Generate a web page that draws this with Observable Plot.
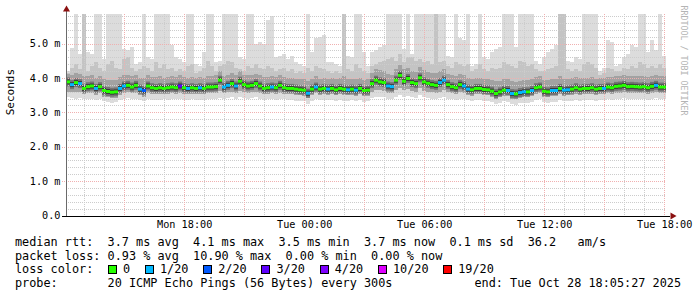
<!DOCTYPE html>
<html><head><meta charset="utf-8">
<script src="https://cdn.jsdelivr.net/npm/d3@7"></script>
<script src="https://cdn.jsdelivr.net/npm/@observablehq/plot@0.6"></script>
<style>
html,body{margin:0;padding:0;background:#fff;}
body{width:697px;height:297px;overflow:hidden;position:relative;font-family:"DejaVu Sans Mono",monospace;}
#chart{position:absolute;left:0;top:0;}
.lg{position:absolute;left:15px;font-size:11.83px;line-height:14px;white-space:pre;color:#000;}
.lg.right{left:auto;right:16px;text-align:right;}
.sq{display:inline-block;width:7px;height:7px;border:1px solid #000;margin:0 6px 0 0.5px;vertical-align:-1px;}
</style></head><body>
<div id="chart"></div>
<div id="legend"></div>
<script>
// ---- data ----
const lossLevels = [0, 1, 2, 3, 4, 10, 19];
const lossColors = ["#26ff00", "#00b8ff", "#0059ff", "#5e00ff", "#7e00ff", "#dd00ff", "#ff0000"];
const lossLabels = ["0", "1/20", "2/20", "3/20", "4/20", "10/20", "19/20"];

const startTime = new Date(Date.UTC(2025, 9, 27, 12, 5, 27));
const endTime = new Date(Date.UTC(2025, 9, 28, 18, 5, 27));
const stepMinutes = 12;
const yMax = 5.86;

const yTicks = [0, 1, 2, 3, 4, 5];
const yTickLabels = ["0.0", "1.0 m", "2.0 m", "3.0 m", "4.0 m", "5.0 m"];
const xTicks = [
  new Date(Date.UTC(2025, 9, 27, 18)), new Date(Date.UTC(2025, 9, 28, 0)),
  new Date(Date.UTC(2025, 9, 28, 6)), new Date(Date.UTC(2025, 9, 28, 12)),
  new Date(Date.UTC(2025, 9, 28, 18))
];
const xTickLabels = ["Mon 18:00", "Tue 00:00", "Tue 06:00", "Tue 12:00", "Tue 18:00"];

// median rtt (ms)
const median = [
3.90,3.82,3.88,3.85,3.71,3.76,3.78,3.71,3.76,3.65,
3.62,3.60,3.61,3.71,3.78,3.80,3.75,3.80,3.69,3.65,
3.78,3.73,3.71,3.73,3.71,3.73,3.75,3.73,3.78,3.73,
3.71,3.73,3.71,3.73,3.71,3.75,3.75,3.76,3.95,3.75,
3.80,3.85,3.78,3.92,3.82,3.78,3.80,3.85,3.78,3.71,
3.73,3.75,3.73,3.80,3.73,3.71,3.71,3.69,3.67,3.66,
3.57,3.69,3.75,3.69,3.71,3.69,3.71,3.67,3.71,3.69,
3.67,3.69,3.66,3.71,3.65,3.66,3.85,3.95,3.90,3.88,
3.78,3.76,3.95,4.09,3.92,4.00,3.88,3.85,4.02,3.90,
3.86,3.82,3.80,3.88,3.95,3.82,3.76,3.73,3.82,3.78,
3.69,3.67,3.71,3.71,3.68,3.67,3.63,3.56,3.61,3.66,
3.65,3.56,3.55,3.59,3.61,3.61,3.65,3.73,3.75,3.63,
3.61,3.65,3.65,3.71,3.66,3.67,3.69,3.73,3.69,3.71,
3.71,3.73,3.69,3.71,3.71,3.75,3.73,3.77,3.78,3.80,
3.76,3.77,3.76,3.75,3.76,3.73,3.77,3.80,3.75,3.75];

// lost pings out of 20
const loss = [
0,1,0,1,0,0,0,1,0,0,
0,0,0,1,1,0,0,0,1,2,
0,0,0,0,0,0,0,0,3,0,
1,0,0,1,0,0,0,0,0,1,
1,0,1,0,0,0,0,0,0,0,
0,1,0,0,0,0,0,0,0,0,
1,0,1,0,0,1,0,0,0,0,
1,0,1,0,0,0,0,0,0,0,
1,1,0,0,0,0,0,0,0,0,
0,0,0,1,1,0,0,0,0,1,
1,0,0,0,0,0,0,0,0,0,
1,1,0,1,1,0,1,0,0,0,
0,1,1,0,1,1,0,0,0,0,
0,0,0,0,1,0,0,0,0,0,
0,0,0,0,0,0,0,1,0,0];

// smoke: slowest ping (6 = beyond top of chart)
const pingMax = [
4.2,4.87,6,4.7,6,4.75,4.7,6,6,4.55,
6,6,6,6,4.85,4.8,4.9,4.4,4.45,6,
4.6,4.55,6,6,6,6,4.95,4.6,4.55,4.45,
6,6,4.4,4.35,4.75,6,6,4.45,4.5,6,
6,6,6,4.6,4.55,6,6,5.0,5.05,5.0,
5.7,5.8,4.6,4.65,4.7,4.55,4.65,4.45,4.4,4.35,
6,4.75,5.15,5.2,5.25,4.45,4.45,4.4,4.35,6,
4.65,4.6,6,6,4.75,4.35,4.75,4.8,4.9,4.95,
6,6,6,6,4.85,6,4.7,6,6,6,
6,6,6,6,6,4.65,4.6,6,5.15,5.1,
6,4.35,4.4,6,4.6,4.55,4.75,4.85,4.9,6,
6,6,4.9,6,6,6,6,4.5,4.4,4.6,
4.75,4.85,4.95,6,6,4.5,4.45,4.6,4.55,6,
6,6,6,4.2,4.3,5.1,5.05,4.35,4.4,4.6,
4.7,4.95,4.9,6,6,4.75,5.1,4.8,6,4.65];

// second slowest ping
const ping19 = [
4.15,4.3,4.4,4.25,6,4.2,4.35,4.45,4.3,4.2,
4.4,4.5,4.3,4.25,4.55,4.6,4.3,4.2,4.25,4.35,
4.3,4.2,4.45,4.3,4.4,4.25,4.3,4.2,4.25,4.2,
4.35,4.4,4.15,4.2,4.3,4.5,4.35,4.2,4.35,4.4,
4.5,4.45,4.3,4.25,4.2,4.35,4.3,4.4,4.3,4.25,
4.35,4.3,4.2,4.25,4.3,4.2,4.25,4.15,4.2,4.15,
4.3,4.2,4.35,4.3,4.25,4.2,4.15,4.2,4.15,6,
4.25,4.2,4.4,4.3,4.2,4.15,4.35,4.4,4.45,4.5,
4.55,4.6,4.5,4.7,4.45,4.6,4.6,4.5,4.55,4.45,
4.5,4.4,6,4.45,4.5,4.35,4.3,4.45,4.4,4.35,
4.4,4.2,4.25,4.4,4.25,4.2,4.3,4.25,4.3,4.45,
4.4,4.35,4.3,4.5,4.45,4.35,4.4,4.25,4.2,4.2,
4.25,4.3,4.35,6,6,4.25,4.2,4.25,4.2,4.4,
4.45,4.4,4.3,4.1,4.15,4.3,4.25,4.2,4.2,4.3,
4.25,4.35,4.3,4.45,4.4,4.3,4.35,4.3,4.4,4.3];

// upper inner smoke edge
const pingHigh = [
4.12,4.1,4.15,4.12,4.05,4.05,4.08,4.0,4.05,3.98,
3.95,3.95,3.95,4.02,4.08,4.1,4.05,4.08,4.0,4.0,
4.08,4.02,4.02,4.05,4.0,4.03,4.05,4.02,4.08,4.03,
4.0,4.03,4.0,4.02,4.0,4.05,4.05,4.08,4.2,4.05,
4.1,4.15,4.08,4.2,4.1,4.08,4.1,4.12,4.08,4.02,
4.03,4.05,4.02,4.08,4.02,4.0,4.0,3.98,3.98,3.96,
3.92,3.98,4.05,3.98,4.0,3.98,4.0,3.97,4.0,4.05,
3.98,3.98,3.96,4.0,3.95,3.98,4.15,4.25,4.22,4.2,
4.12,4.1,4.25,4.38,4.25,4.3,4.2,4.18,4.32,4.22,
4.18,4.15,4.15,4.2,4.25,4.12,4.08,4.05,4.12,4.08,
4.0,3.98,4.0,4.0,3.98,3.97,3.95,3.9,3.92,3.97,
3.96,3.9,3.88,3.92,3.93,3.93,3.96,4.02,4.05,3.95,
3.93,3.96,3.97,4.05,3.98,3.98,4.0,4.02,4.0,4.0,
4.0,4.02,3.98,4.0,4.0,4.04,4.02,4.06,4.07,4.1,
4.05,4.06,4.05,4.05,4.06,4.02,4.06,4.1,4.05,4.05];

// lower inner smoke edge
const pingLow = [
3.6,3.58,3.6,3.58,3.52,3.55,3.56,3.5,3.55,3.46,
3.44,3.42,3.43,3.5,3.56,3.58,3.55,3.57,3.5,3.45,
3.56,3.53,3.52,3.53,3.52,3.54,3.55,3.53,3.56,3.53,
3.52,3.53,3.52,3.53,3.52,3.55,3.55,3.56,3.62,3.55,
3.58,3.6,3.56,3.62,3.58,3.56,3.58,3.6,3.56,3.52,
3.53,3.55,3.53,3.57,3.53,3.52,3.52,3.5,3.49,3.48,
3.42,3.5,3.55,3.5,3.52,3.5,3.52,3.49,3.52,3.5,
3.49,3.5,3.48,3.52,3.47,3.48,3.6,3.66,3.64,3.62,
3.56,3.55,3.65,3.72,3.64,3.68,3.62,3.6,3.7,3.63,
3.6,3.58,3.57,3.6,3.64,3.58,3.55,3.53,3.58,3.55,
3.5,3.48,3.52,3.52,3.5,3.49,3.46,3.4,3.44,3.48,
3.47,3.4,3.39,3.42,3.44,3.44,3.47,3.53,3.55,3.46,
3.44,3.47,3.47,3.52,3.48,3.49,3.5,3.53,3.5,3.52,
3.52,3.53,3.5,3.52,3.52,3.55,3.53,3.56,3.57,3.58,
3.55,3.56,3.55,3.55,3.56,3.53,3.56,3.58,3.55,3.55];

// fastest ping
const pingMin = [
3.45,3.42,3.4,3.42,3.38,3.4,3.4,3.36,3.38,3.32,
3.3,3.28,3.3,3.35,3.4,3.42,3.4,3.4,3.35,3.32,
3.38,3.36,3.35,3.36,3.38,3.37,3.4,3.38,3.4,3.36,
3.35,3.38,3.36,3.37,3.35,3.38,3.4,3.4,3.42,3.38,
3.42,3.44,3.4,3.45,3.42,3.4,3.42,3.44,3.4,3.36,
3.38,3.4,3.36,3.4,3.38,3.36,3.35,3.34,3.33,3.32,
3.25,3.34,3.38,3.35,3.36,3.35,3.36,3.33,3.36,3.34,
3.33,3.35,3.32,3.36,3.3,3.32,3.42,3.46,3.44,3.44,
3.4,3.4,3.45,3.5,3.45,3.48,3.44,3.42,3.5,3.45,
3.42,3.4,3.4,3.42,3.45,3.4,3.38,3.36,3.4,3.38,
3.35,3.33,3.36,3.35,3.34,3.33,3.3,3.25,3.28,3.32,
3.3,3.24,3.22,3.26,3.28,3.28,3.3,3.36,3.38,3.3,
3.28,3.3,3.3,3.36,3.32,3.33,3.34,3.36,3.34,3.36,
3.36,3.37,3.34,3.36,3.36,3.38,3.37,3.4,3.4,3.42,
3.4,3.4,3.38,3.38,3.4,3.37,3.4,3.42,3.38,3.38];

const rttStats = [["3.7", "avg"], ["4.1", "max"], ["3.5", "min"], ["3.7", "now"], ["0.1", "sd"]];
const amPerSec = "36.2";
const lossStats = [["0.93", "avg"], ["10.90", "max"], ["0.00", "min"], ["0.00", "now"]];
const probeText = "20 ICMP Echo Pings (56 Bytes) every 300s";
const endText = "end: Tue Oct 28 18:05:27 2025";

// ---- table ----
const stepMs = stepMinutes * 60000;
const rows = median.map((m, i) => ({
  t: new Date(startTime.getTime() + i * stepMs),
  t2: new Date(startTime.getTime() + (i + 1) * stepMs),
  med: m, loss: loss[i],
  max: pingMax[i], p19: ping19[i], high: pingHigh[i], low: pingLow[i], min: pingMin[i]
}));

const hours = d3.utcHour.range(startTime, endTime);
const majorX = hours.filter(h => h.getUTCHours() % 3 === 0);
const minorX = hours.filter(h => h.getUTCHours() % 3 !== 0);
const majorY = [1, 2, 3, 4, 5];
const minorY = d3.range(1, 30).map(i => i / 5).filter(v => Math.abs(v - Math.round(v)) > 1e-9);

const crisp = {shapeRendering: "crispEdges"};

const chart = Plot.plot({
  width: 697, height: 230,
  marginLeft: 66, marginRight: 31, marginTop: 14, marginBottom: 14.5,
  style: {fontFamily: "'DejaVu Sans Mono', monospace", fontSize: "10.2px", background: "#fff", color: "#000", overflow: "visible"},
  x: {type: "utc", domain: [startTime, endTime]},
  y: {domain: [0, yMax]},
  color: {type: "ordinal", domain: lossLevels, range: lossColors},
  marks: [
    Plot.rect(rows, {x1: "t", x2: "t2", y1: "min", y2: "max", fill: "#dcdcdc", inset: 0, clip: true, ...crisp}),
    Plot.rect(rows, {x1: "t", x2: "t2", y1: "low", y2: "p19", fill: "#c4c4c4", inset: 0, clip: true, ...crisp}),
    Plot.rect(rows, {x1: "t", x2: "t2", y1: "low", y2: "high", fill: "#a2a2a2", inset: 0, clip: true, ...crisp}),
    Plot.ruleY(rows, {x1: "t", x2: "t2", y: "med", stroke: "#747474", strokeWidth: 9}),
    Plot.ruleY(rows, {x1: "t", x2: "t2", y: "med", stroke: "#3a3a3a", strokeWidth: 5}),
    Plot.ruleY(minorY, {stroke: "#cccccc", strokeDasharray: "1,1", ...crisp}),
    Plot.ruleX(minorX, {stroke: "#cccccc", strokeDasharray: "1,1", ...crisp}),
    Plot.ruleY(majorY, {stroke: "#f0b0b0", strokeDasharray: "1,1", insetLeft: -4, ...crisp}),
    Plot.ruleX(majorX, {stroke: "#f0b0b0", strokeDasharray: "1,1", ...crisp}),
    Plot.ruleY(rows, {x1: "t", x2: "t2", y: "med", stroke: "loss", strokeWidth: 3}),
    Plot.ruleX([startTime], {stroke: "#6a6a6a", insetTop: -4, ...crisp}),
    Plot.ruleY([0], {stroke: "#000", insetLeft: -4, insetRight: -4, ...crisp}),
    Plot.dot([0], {frameAnchor: "top-left", symbol: "triangle", r: 2.6, fill: "#8b1010", stroke: "none", dy: -5}),
    Plot.dot([0], {frameAnchor: "bottom-right", symbol: "triangle", rotate: 90, r: 2.6, fill: "#8b1010", stroke: "none", dx: 6}),
    Plot.axisY({ticks: yTicks, tickSize: 0, tickPadding: 6, tickFormat: d => yTickLabels[yTicks.indexOf(d)], label: null, fontSize: 10.2}),
    Plot.axisX({ticks: xTicks, tickSize: 0, tickPadding: 5, tickFormat: d => xTickLabels[xTicks.findIndex(t => +t === +d)], label: null, fontSize: 10.2}),
    Plot.text(["Seconds"], {frameAnchor: "left", rotate: -90, dx: -56, fontSize: 11, fill: "#000"}),
    Plot.text(["RRDTOOL / TOBI OETIKER"], {frameAnchor: "top-right", rotate: 90, textAnchor: "start", dx: 20, dy: -9, fontSize: 8.3, fill: "#b4b4b4"})
  ]
});
document.getElementById("chart").appendChild(chart);

// ---- legend ----
const legend = document.getElementById("legend");
function addRow(top, html, cls) {
  const d = document.createElement("div");
  d.className = "lg" + (cls ? " " + cls : "");
  d.style.top = top + "px";
  d.innerHTML = html;
  legend.appendChild(d);
}
const row1 = "median rtt:  " + rttStats.map(([v, n]) => `${v} ms ${n}`).join("  ") + `  ${amPerSec}   am/s`;
const row2 = "packet loss: " + lossStats.map(([v, n]) => `${v} % ${n}`).join("  ");
const row3 = "loss color:  " + lossLevels.map((l, i) => `<span class="sq" style="background:${lossColors[i]}"></span>${lossLabels[i]}`).join("  ");
const row4 = "probe:       " + probeText;
addRow(234.9, row1);
addRow(248.6, row2);
addRow(262.2, row3);
addRow(275.9, row4);
addRow(275.9, endText, "right");
</script>
</body></html>
